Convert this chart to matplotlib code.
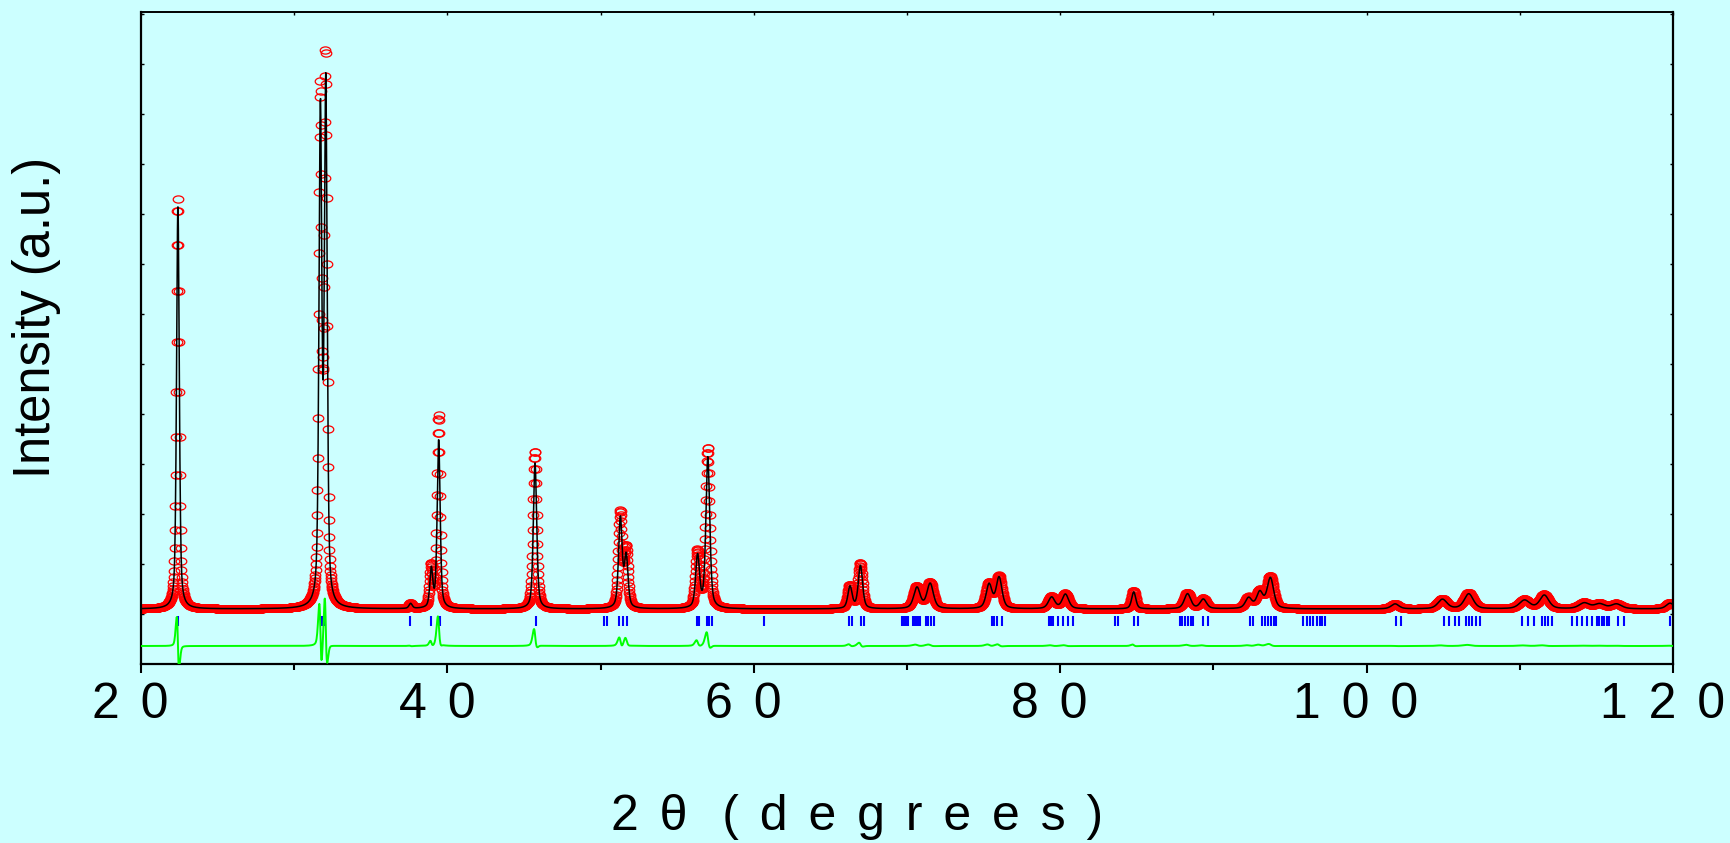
"""
Rietveld refinement plot: observed, calculated, Bragg positions, difference
"""

import matplotlib
matplotlib.use("Agg")
import matplotlib.pyplot as plt
import numpy as np
from matplotlib.path import Path
from matplotlib.transforms import Affine2D, ScaledTranslation

plt.rcParams['font.family'] = ['Liberation Sans', 'DejaVu Sans']

############### Data #####################################
# peak positions (2theta), observed / calculated heights above background, fwhm
peak_pos = [22.40, 31.70, 32.05, 37.59, 38.94, 39.42, 45.71, 51.28, 51.66, 56.32, 56.99,
            66.27, 66.95, 70.64, 71.50, 75.35, 76.00, 79.43, 80.33, 84.79, 88.30, 89.33,
            92.29, 93.02, 93.71, 101.85, 104.94, 106.66, 110.30, 111.59, 114.20, 115.20,
            116.30, 119.80]
obs_height = [8200, 10080, 10760, 100, 820, 3860, 3160, 1900, 1160, 1120, 3200,
              460, 900, 440, 520, 500, 640, 240, 300, 360, 320, 200,
              220, 340, 640, 100, 200, 320, 180, 280, 120, 100,
              100, 120]
calc_height = [8100, 9780, 10280, 100, 760, 3380, 2920, 1800, 1020, 1040, 3020,
               440, 860, 420, 500, 480, 620, 230, 290, 340, 300, 190,
               210, 320, 610, 100, 190, 300, 170, 270, 115, 95,
               95, 115]
peak_fwhm = [0.21, 0.22, 0.22, 0.25, 0.23, 0.23, 0.26, 0.28, 0.28, 0.30, 0.30,
             0.33, 0.33, 0.50, 0.50, 0.45, 0.45, 0.50, 0.50, 0.32, 0.50, 0.50,
             0.50, 0.50, 0.50, 0.60, 0.70, 0.70, 0.80, 0.70, 0.80, 0.80,
             0.80, 0.60]
background = 1100
calc_shift = 0.01
diff_offset = 360

# Bragg reflection positions (blue ticks)
hkl_pos = [22.40, 31.75, 31.88, 32.01, 37.58, 38.93, 39.50, 45.77, 50.25, 50.43, 51.21,
           51.43, 51.72, 56.27, 56.44, 56.92, 57.08, 57.25, 60.67, 66.24, 66.43, 66.98,
           67.19, 69.65, 69.78, 69.91, 70.04, 70.41, 70.52, 70.63, 70.74, 70.85, 71.22,
           71.39, 71.57, 71.74, 75.53, 75.70, 75.88, 76.18, 79.27, 79.40, 79.55, 79.88,
           80.20, 80.53, 80.86, 83.58, 83.79, 84.84, 85.06, 87.82, 87.97, 88.15, 88.32,
           88.52, 88.69, 89.30, 89.63, 92.39, 92.61, 93.15, 93.37, 93.59, 93.76, 93.94,
           94.09, 95.87, 96.09, 96.31, 96.52, 96.74, 96.96, 97.11, 97.28, 101.90, 102.22,
           105.07, 105.38, 105.77, 106.03, 106.47, 106.68, 106.90, 107.12, 107.40, 110.12,
           110.51, 110.95, 111.43, 111.64, 111.86, 112.08, 113.43, 113.71, 114.04, 114.37,
           114.70, 115.02, 115.17, 115.35, 115.52, 115.68, 115.83, 116.40, 116.83, 119.80]

x_ticks = [20, 40, 60, 80, 100, 120]

GAP = "\u2005\u2006"


############ Functions #################
def pseudo_voigt(x, pos, h, w, eta=0.5):
    d = (x - pos) / (w / 2)
    return h * (eta / (1 + d**2) + (1 - eta) * np.exp(-np.log(2) * d**2))


def spaced(s, trailing=True):
    # wide letter spacing as in the original software
    out = GAP.join(s)
    return out + GAP if trailing else out


############ Profiles #################
tt = np.arange(20, 120.0001, 0.02)
y_obs = np.full_like(tt, background, dtype=float)
y_calc = np.full_like(tt, background, dtype=float)
for p, ho, hc, w in zip(peak_pos, obs_height, calc_height, peak_fwhm):
    y_obs += pseudo_voigt(tt, p, ho, w)
    y_calc += pseudo_voigt(tt, p + calc_shift, hc, w)
y_diff = y_obs - y_calc + diff_offset


############### Plot #################
bg = '#ccffff'
fig = plt.figure(figsize=(17.3, 8.43), dpi=100, facecolor=bg)
ax = fig.add_axes([141/1730, (843-664)/843, (1673-141)/1730, (664-12)/843])
ax.set_facecolor(bg)

ellipse = Path.unit_circle().transformed(Affine2D().scale(1, 0.68))
ax.plot(tt, y_obs, ls='none', marker=ellipse, ms=7.6, mfc='none', mec='red', mew=0.9, zorder=2)
ax.plot(tt, y_calc, color='black', lw=1.1, zorder=3)
ax.vlines(hkl_pos, 760, 960, color='blue', lw=1.5, zorder=3)
ax.plot(tt, y_diff, color='#00ff00', lw=1.4, zorder=3)

ax.set_xlim(20, 120)
ax.set_ylim(0, 13040)

ax.set_xticks(x_ticks)
ax.set_xticklabels([])
ax.set_xticks([30, 50, 70, 90, 110], minor=True)
ax.tick_params(axis='x', which='major', direction='out', length=9 / 1.389, width=1.5)
ax.tick_params(axis='x', which='minor', direction='out', length=6 / 1.389, width=1.5)

# tick labels drawn as texts: they sit a little left of their ticks
lbl_trans = ax.get_xaxis_transform() + ScaledTranslation(-10.5 / 100, -18 / 100, fig.dpi_scale_trans)
for v in x_ticks:
    ax.text(v, 0, spaced(str(v), trailing=False), transform=lbl_trans,
            fontsize=36, ha='center', va='top', clip_on=False)

ax.set_yticks(np.arange(1000, 13001, 1000))
ax.set_yticklabels([])
ax.tick_params(axis='y', direction='in', left=True, right=True, length=2.5, width=1)

top = ax.secondary_xaxis('top')
top.set_xticks(np.arange(20, 121, 10))
top.set_xticklabels([])
top.tick_params(direction='in', length=2, width=1)
top.spines['top'].set_linewidth(1.2)

for side in ['left', 'right', 'bottom']:
    ax.spines[side].set_linewidth(1.6)
ax.spines['top'].set_linewidth(1.2)

fig.text(611/1730, 13/843, spaced("2\u03b8") + " " + spaced("(degrees)", False),
         fontsize=36, ha='left', va='baseline')
fig.text(37/1730, 1 - 317/843, "Intensity (a.u.)", fontsize=36.5,
         rotation=90, ha='center', va='center')

fig.savefig("out.png", dpi=100, facecolor=bg)
